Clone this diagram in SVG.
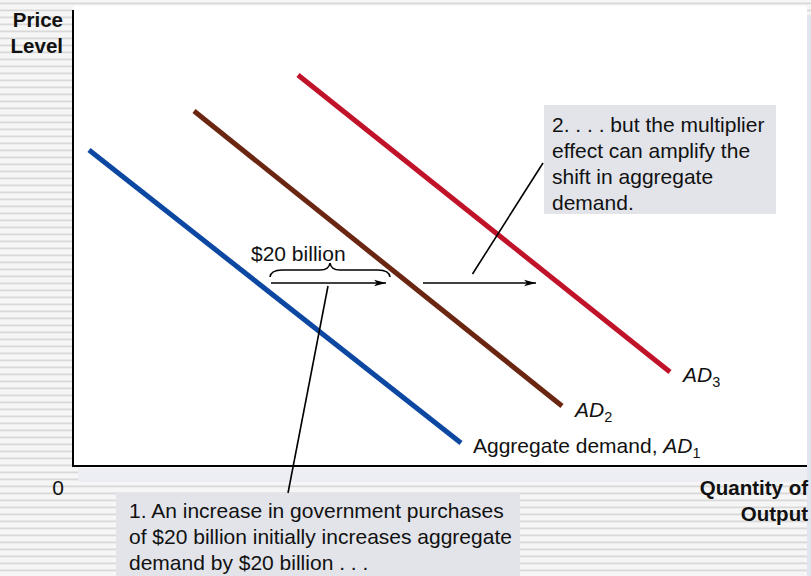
<svg xmlns="http://www.w3.org/2000/svg" width="811" height="576" viewBox="0 0 811 576">
<defs>
<pattern id="stripes" x="0" y="0" width="10" height="7" patternUnits="userSpaceOnUse">
<rect width="10" height="7" fill="#f6f6f6"/>
<rect y="2.5" width="10" height="1.8" fill="#d9d9d9"/>
</pattern>
<marker id="arr" viewBox="0 0 12 8" refX="12" refY="4" markerWidth="12" markerHeight="8" markerUnits="userSpaceOnUse" orient="auto">
<path d="M0,0.8 L12,4 L0,7.2 L3,4 Z" fill="#000"/>
</marker>
<style>
text{font-family:"Liberation Sans",Arial,sans-serif;font-size:21px;fill:#111}
.b{font-weight:bold;font-size:20.5px}
.i{font-style:italic}
.sub{font-size:14.5px}
.curve{fill:none;stroke-width:5;stroke-linecap:butt}
.box{fill:#e2e4ea}
.lead{stroke:#000;stroke-width:1.6;fill:none}
</style>
</defs>
<rect width="811" height="576" fill="url(#stripes)"/>
<rect x="73" y="6" width="734" height="460" fill="#fff"/>
<rect x="807" y="15" width="4" height="561" fill="#e1e5ee"/>
<rect x="78" y="468" width="729" height="14" fill="#eceef4"/>

<g id="axes">
<path d="M73,10 V466 H807" fill="none" stroke="#000" stroke-width="2"/>
<text class="b" x="63" y="27" text-anchor="end">Price</text>
<text class="b" x="63" y="53" text-anchor="end">Level</text>
<text x="58" y="495" text-anchor="middle">0</text>
<text class="b" x="808" y="495" text-anchor="end">Quantity of</text>
<text class="b" x="808" y="521" text-anchor="end">Output</text>
</g>

<g id="ad1">
<line class="curve" x1="89" y1="150" x2="461" y2="443" stroke="#0c47a1"/>
<text x="473" y="453">Aggregate demand, <tspan class="i">AD</tspan><tspan class="sub" dy="5">1</tspan></text>
</g>
<g id="ad2">
<line class="curve" x1="194" y1="111" x2="562" y2="406" stroke="#6b2612"/>
<text x="575" y="417"><tspan class="i">AD</tspan><tspan class="sub" dy="5">2</tspan></text>
</g>
<g id="ad3">
<line class="curve" x1="298" y1="75" x2="670" y2="372" stroke="#c01228"/>
<text x="683" y="382"><tspan class="i">AD</tspan><tspan class="sub" dy="5">3</tspan></text>
</g>

<g id="brace">
<path class="lead" d="M270,277 Q271,270 282,270 H320 Q329,270 330,263 Q331,270 340,270 H378 Q389,270 390,277"/>
<text x="251" y="261">$20 billion</text>
</g>

<g id="callout2">
<rect class="box" x="544" y="105" width="232" height="109"/>
<text x="552" y="132">2. . . . but the multiplier</text>
<text x="552" y="158">effect can amplify the</text>
<text x="552" y="184">shift in aggregate</text>
<text x="552" y="210">demand.</text>
</g>

<g id="callout1">
<rect class="box" x="116" y="493" width="404" height="83"/>
<text x="129" y="518">1. An increase in government purchases</text>
<text x="129" y="544">of $20 billion initially increases aggregate</text>
<text x="129" y="570">demand by $20 billion . . .</text>
</g>

<g id="connectors">
<line class="lead" x1="271" y1="283" x2="386" y2="283" marker-end="url(#arr)"/>
<line class="lead" x1="423" y1="283" x2="536" y2="283" marker-end="url(#arr)"/>
<line class="lead" x1="472.5" y1="274" x2="543" y2="163"/>
<line class="lead" x1="328" y1="286" x2="288" y2="493"/>
</g>
</svg>
